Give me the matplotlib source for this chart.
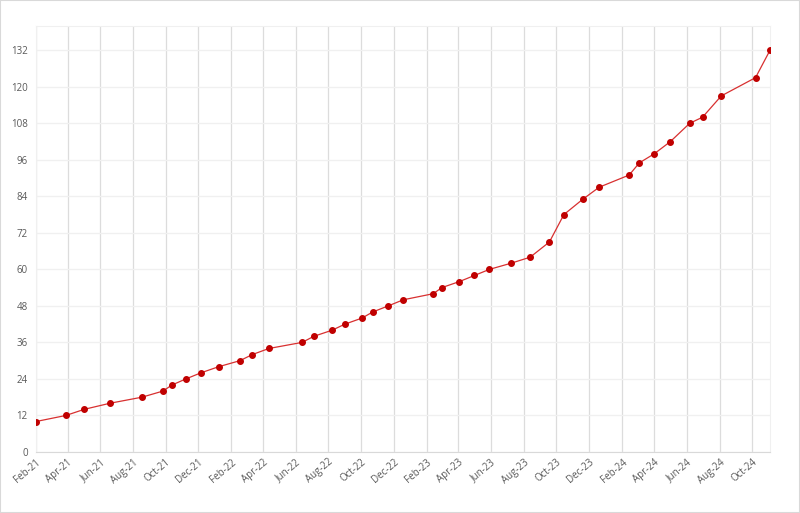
import datetime as dt
import matplotlib
matplotlib.use("Agg")
import matplotlib.pyplot as plt
import matplotlib.dates as mdates
from matplotlib.patches import Rectangle

# values
dates = [
    "2021-02-01", "2021-03-29", "2021-05-02", "2021-06-19", "2021-08-18",
    "2021-09-26", "2021-10-13", "2021-11-08", "2021-12-06", "2022-01-08",
    "2022-02-17", "2022-03-12", "2022-04-12", "2022-06-13", "2022-07-05",
    "2022-08-08", "2022-09-01", "2022-10-03", "2022-10-23", "2022-11-21",
    "2022-12-19", "2023-02-13", "2023-03-01", "2023-04-03", "2023-05-01",
    "2023-05-29", "2023-07-08", "2023-08-13", "2023-09-18", "2023-10-15",
    "2023-11-19", "2023-12-20", "2024-02-14", "2024-03-04", "2024-04-01",
    "2024-05-01", "2024-06-06", "2024-06-30", "2024-08-04", "2024-10-07",
    "2024-11-03",
]
values = [
    10, 12, 14, 16, 18, 20, 22, 24, 26, 28,
    30, 32, 34, 36, 38, 40, 42, 44, 46, 48,
    50, 52, 54, 56, 58, 60, 62, 64, 69, 78,
    83, 87, 91, 95, 98, 102, 108, 110, 117, 123,
    132,
]
y_ticks = [0, 12, 24, 36, 48, 60, 72, 84, 96, 108, 120, 132]

x = [dt.datetime.strptime(d, "%Y-%m-%d") for d in dates]

plt.rcParams["font.family"] = ["Open Sans", "DejaVu Sans"]

fig = plt.figure(figsize=(8, 5.13), dpi=100)
ax = fig.add_axes([0.045, 0.119, 0.9175, 0.8305])

# line and dots, drawn separately so the line can be a bit lighter
ax.plot(x, values, color="#d83030", linewidth=0.9, zorder=3)
ax.plot(x, values, linestyle="none", marker="o", markersize=4,
        markerfacecolor="#c00000", markeredgecolor="#c00000", zorder=4)

ax.set_ylim(0, 140)
ax.set_yticks(y_ticks)
ax.set_xlim(x[0], x[-1])
ax.xaxis.set_major_locator(mdates.MonthLocator(bymonth=[2, 4, 6, 8, 10, 12]))
ax.xaxis.set_major_formatter(mdates.DateFormatter("%b-%y"))

ax.grid(axis="x", color="#dcdcdc", linewidth=0.9)
ax.grid(axis="y", color="#f0f0f0", linewidth=1)
ax.set_axisbelow(True)

for side in ["left", "right", "top"]:
    ax.spines[side].set_color("#f0f0f0")
ax.spines["bottom"].set_color("#d9d9d9")

ax.tick_params(axis="both", length=0, labelsize=7, labelcolor="#595959")
ax.tick_params(axis="y", pad=6)
for lbl in ax.get_xticklabels():
    lbl.set_rotation(40)
    lbl.set_ha("right")
    lbl.set_rotation_mode("anchor")

fig.patches.append(Rectangle((0, 0), 1, 1, transform=fig.transFigure,
                             fill=False, edgecolor="#d9d9d9", linewidth=1.5))

fig.savefig("out.png", dpi=100)
